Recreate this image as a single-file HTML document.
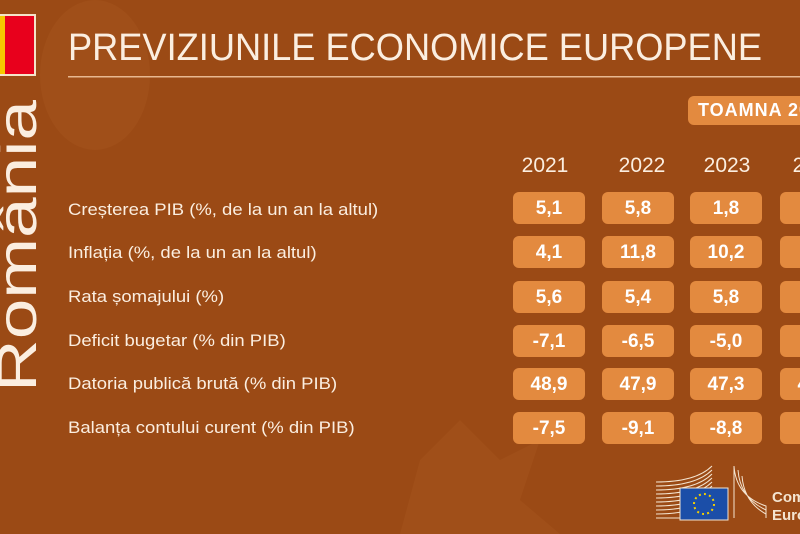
<!DOCTYPE html>
<html><head><meta charset="utf-8"><style>
body{margin:0}
#c{position:relative;width:800px;height:534px;overflow:hidden;background:#9b4a15;font-family:"Liberation Sans","DejaVu Sans",sans-serif;color:#fbeee0}
.box{position:absolute;width:72px;height:32px;background:#e38a3f;border-radius:6px;color:#fff;font-weight:bold;font-size:19px;text-align:center;line-height:33px}
.lab{position:absolute;left:68px;font-size:16.5px;color:#fbeee0;white-space:nowrap;transform-origin:0 0;transform:scaleX(1.12)}
.yr{position:absolute;top:154px;font-size:21px;width:80px;text-align:center}
</style></head><body><div id="c">
<svg width="800" height="534" style="position:absolute;left:0;top:0">
<ellipse cx="95" cy="75" rx="55" ry="75" fill="#a3531d" opacity="0.6"/>
<path d="M400 534 L420 460 L460 420 L500 460 L540 440 L520 500 L560 534Z" fill="#a3531d" opacity="0.6"/>
<rect x="0" y="14" width="36" height="62" fill="#f4e4c8"/>
<rect x="0" y="16" width="5" height="58" fill="#f6c800"/>
<rect x="5" y="16" width="29" height="58" fill="#e8001c"/>
<rect x="68" y="76" width="732" height="1.5" fill="#e8b890"/>
<text transform="translate(36,392) rotate(-90)" font-family="Liberation Sans,sans-serif" font-size="56" fill="#fbeee0" textLength="292" lengthAdjust="spacingAndGlyphs">România</text>
<text x="68" y="60" font-family="Liberation Sans,sans-serif" font-size="38" fill="#fbeee0" textLength="694" lengthAdjust="spacingAndGlyphs">PREVIZIUNILE ECONOMICE EUROPENE</text>
<g transform="translate(656,466)">
<g stroke="#f4e4d0" stroke-width="1" fill="none">
<path d="M0 16 Q40 16 56 0"/><path d="M0 20 Q40 20 56 4"/><path d="M0 24 Q40 24 56 8"/><path d="M0 28 Q40 28 56 12"/><path d="M0 32 Q40 32 56 16"/><path d="M0 36 Q40 36 56 20"/><path d="M0 40 Q40 40 56 24"/><path d="M0 44 Q40 44 56 28"/><path d="M0 48 Q40 48 56 32"/><path d="M0 52 L56 52"/>
<path d="M78 0 Q80 30 110 40 L110 52 M82 4 Q84 32 110 44 M86 10 Q88 36 110 48 M78 52 L78 0"/>
</g>
<rect x="24" y="22" width="48" height="32" fill="#1b4ea8" stroke="#f4e4d0"/>
<circle cx="48" cy="38" r="10" fill="none" stroke="#f6d000" stroke-width="2" stroke-dasharray="2 3.2"/>
</g>
<text x="772" y="502" font-size="15" font-weight="bold" fill="#f4e4d0">Comm</text>
<text x="772" y="520" font-size="15" font-weight="bold" fill="#f4e4d0">Europ</text>
</svg>
<div style="position:absolute;left:688px;top:96px;width:130px;height:29px;background:#e38a3f;border-radius:6px;color:#fff;font-weight:bold;font-size:18px;line-height:29px;padding-left:10px;letter-spacing:1px;white-space:nowrap">TOAMNA 2022</div>
<div class="yr" style="left:505px">2021</div>
<div class="yr" style="left:602px">2022</div>
<div class="yr" style="left:687px">2023</div>
<div class="yr" style="left:776px">2024</div>
<div class="lab" style="top:201px">Creșterea PIB (%, de la un an la altul)</div>
<div class="lab" style="top:244px">Inflația (%, de la un an la altul)</div>
<div class="lab" style="top:288px">Rata șomajului (%)</div>
<div class="lab" style="top:332px">Deficit bugetar (% din PIB)</div>
<div class="lab" style="top:375px">Datoria publică brută (% din PIB)</div>
<div class="lab" style="top:419px">Balanța contului curent (% din PIB)</div>
<div class="box" style="left:513px;top:192px">5,1</div><div class="box" style="left:602px;top:192px">5,8</div><div class="box" style="left:690px;top:192px">1,8</div><div class="box" style="left:780px;top:192px">2,5</div>
<div class="box" style="left:513px;top:236px">4,1</div><div class="box" style="left:602px;top:236px">11,8</div><div class="box" style="left:690px;top:236px">10,2</div><div class="box" style="left:780px;top:236px">5,4</div>
<div class="box" style="left:513px;top:281px">5,6</div><div class="box" style="left:602px;top:281px">5,4</div><div class="box" style="left:690px;top:281px">5,8</div><div class="box" style="left:780px;top:281px">5,8</div>
<div class="box" style="left:513px;top:325px">-7,1</div><div class="box" style="left:602px;top:325px">-6,5</div><div class="box" style="left:690px;top:325px">-5,0</div><div class="box" style="left:780px;top:325px">-4,4</div>
<div class="box" style="left:513px;top:368px">48,9</div><div class="box" style="left:602px;top:368px">47,9</div><div class="box" style="left:690px;top:368px">47,3</div><div class="box" style="left:780px;top:368px">48,1</div>
<div class="box" style="left:513px;top:412px">-7,5</div><div class="box" style="left:602px;top:412px">-9,1</div><div class="box" style="left:690px;top:412px">-8,8</div><div class="box" style="left:780px;top:412px">-8,4</div>
</div></body></html>
